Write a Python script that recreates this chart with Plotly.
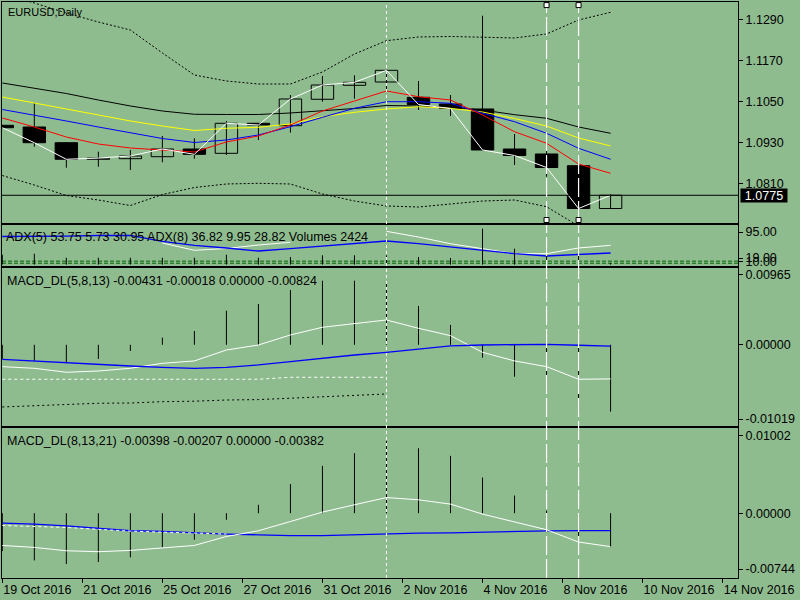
import plotly.graph_objects as go

BG = "#8FBC8F"
FONT = "Liberation Sans"

# ---------------- data ----------------
bar_index = list(range(20))
opens  = [1.09798, 1.09748, 1.09288, 1.08803, 1.08820, 1.08879, 1.09104, 1.08978, 1.09856, 1.09786,
          1.10559, 1.10968, 1.11065, 1.10617, 1.10421, 1.10275, 1.09104, 1.08958, 1.08615, 1.07362]
highs  = [1.09810, 1.10442, 1.09309, 1.09025, 1.09075, 1.09484, 1.09417, 1.09923, 1.09865, 1.10684,
          1.11241, 1.11261, 1.11416, 1.11094, 1.10684, 1.13005, 1.09543, 1.09271, 1.08615, 1.07787]
lows   = [1.09710, 1.09171, 1.08557, 1.08586, 1.08489, 1.08715, 1.08820, 1.08928, 1.09367, 1.09581,
          1.10488, 1.10576, 1.10831, 1.10245, 1.10070, 1.09075, 1.08636, 1.08293, 1.07026, 1.07357]
closes = [1.09727, 1.09288, 1.08803, 1.08840, 1.08899, 1.09104, 1.08949, 1.09856, 1.09806, 1.10567,
          1.10977, 1.11056, 1.11407, 1.10406, 1.10289, 1.09075, 1.08914, 1.08562, 1.07362, 1.07750]

ma_black  = [1.11036, 1.10889, 1.10728, 1.10538, 1.10363, 1.10216, 1.10120, 1.10114, 1.10114, 1.10158,
             1.10216, 1.10289, 1.10377, 1.10363, 1.10324, 1.10245, 1.10108, 1.10003, 1.09748, 1.09564]
ma_yellow = [1.10626, 1.10450, 1.10275, 1.10099, 1.09924, 1.09777, 1.09645, 1.09710, 1.09739, 1.09836,
             1.10049, 1.10178, 1.10275, 1.10342, 1.10295, 1.10187, 1.09997, 1.09777, 1.09426, 1.09192]
ma_blue   = [1.10260, 1.10099, 1.09924, 1.09748, 1.09572, 1.09411, 1.09294, 1.09367, 1.09514, 1.09757,
             1.10032, 1.10295, 1.10488, 1.10488, 1.10442, 1.10149, 1.09903, 1.09564, 1.09125, 1.08803]
ma_red    = [1.10011, 1.09748, 1.09455, 1.09250, 1.09133, 1.09075, 1.09016, 1.09309, 1.09485, 1.09806,
             1.10216, 1.10509, 1.10802, 1.10635, 1.10538, 1.10099, 1.09610, 1.09271, 1.08665, 1.08393]
band_upper = [1.13641, 1.13377, 1.13084, 1.12821, 1.12587, 1.11914, 1.11270, 1.11094, 1.11006, 1.11006,
              1.11358, 1.11884, 1.12274, 1.12382, 1.12397, 1.12382, 1.12353, 1.12470, 1.12880, 1.13105]
band_lower = [1.08328, 1.08050, 1.07743, 1.07611, 1.07450, 1.07772, 1.07977, 1.08080, 1.08100, 1.08080,
              1.07787, 1.07582, 1.07436, 1.07406, 1.07494, 1.07582, 1.07611, 1.07415, 1.06850, 1.06558]

volumes   = [15000, 16500, 10450, 10450, 10450, 10450, 10450, 15000, 10450, 11500,
             14100, 14100, 14100, 11500, 10000, 54400, 24100, 24100, 25150, 2424]
adx_blue  = [81.9, 81.9, 83.3, 84.8, 85.4, 67.9, 56.2, 48.4, 39.6, 46.3,
             53.3, 60.9, 68.8, 60.9, 51.3, 41.7, 31.8, 25.1, 30.0, 33.8]
adx_white = [None, None, None, None, None, 62.9, 41.7, 46.9, 57.1, 65.0,
             None, None, 97.0, 80.4, 60.9, 46.3, 31.8, 31.8, 48.4, 56.2]
adx_levels = [10, 4]

macd1_hist   = [-0.00180, -0.00204, -0.00233, -0.00179, -0.00078, 0.00090, 0.00174, 0.00430, 0.00515, 0.00692,
                0.00809, 0.00809, 0.00796, 0.00490, 0.00250, -0.00163, -0.00403, -0.00583, -0.00865, -0.00844]
macd1_main   = [-0.00276, -0.00297, -0.00347, -0.00331, -0.00297, -0.00234, -0.00204, -0.00066, -0.00003, 0.00124,
                0.00221, 0.00263, 0.00313, 0.00208, 0.00115, -0.00095, -0.00204, -0.00276, -0.00435, -0.00431]
macd1_signal = [-0.00183, -0.00204, -0.00233, -0.00255, -0.00268, -0.00284, -0.00297, -0.00284, -0.00255, -0.00213,
                -0.00170, -0.00129, -0.00095, -0.00053, -0.00015, -0.00003, 0.00006, 0.00006, -0.00006, -0.00018]
macd1_aux_white = [-0.00435, -0.00435, -0.00435, -0.00435, -0.00435, -0.00435, -0.00435, -0.00435, -0.00435,
                   -0.00410, -0.00410, -0.00410, -0.00410]
macd1_aux_black = [-0.00785, -0.00768, -0.00749, -0.00738, -0.00735, -0.00718, -0.00712, -0.00697, -0.00692,
                   -0.00674, -0.00655, -0.00641, -0.00621]

macd2_hist   = [-0.00450, -0.00562, -0.00605, -0.00581, -0.00526, -0.00407, -0.00316, -0.00078, 0.00100, 0.00346,
                0.00563, 0.00714, 0.00860, 0.00773, 0.00682, 0.00424, 0.00210, 0.00029, -0.00277, -0.00403]
macd2_main   = [-0.00384, -0.00407, -0.00447, -0.00458, -0.00443, -0.00415, -0.00384, -0.00277, -0.00209, -0.00099,
                0.00013, 0.00100, 0.00186, 0.00159, 0.00108, -0.00011, -0.00106, -0.00197, -0.00343, -0.00398]
macd2_signal = [-0.00118, -0.00129, -0.00150, -0.00182, -0.00209, -0.00217, -0.00236, -0.00248, -0.00257, -0.00268,
                -0.00268, -0.00257, -0.00245, -0.00236, -0.00233, -0.00224, -0.00213, -0.00210, -0.00208, -0.00207]
macd2_aux_white = [-0.00146, -0.00155, -0.00170, -0.00192, -0.00213, -0.00225, -0.00240, -0.00248]

date_tick_pos = [0, 2.5, 5, 7.5, 10, 12.5, 15, 17.5, 20, 22.5]
date_tick_labels = ["19 Oct 2016", "21 Oct 2016", "25 Oct 2016", "27 Oct 2016", "31 Oct 2016",
                    "2 Nov 2016", "4 Nov 2016", "8 Nov 2016", "10 Nov 2016", "14 Nov 2016"]
price_ticks = [1.0810, 1.0930, 1.1050, 1.1170, 1.1290]
adx_ticks = [95, 19, 10]
adx_tick_labels = ["95.00", "19.00", "10.00"]
macd1_ticks = [0.00890, 0.0, -0.00937]
macd1_tick_labels = ["0.00965", "0.00000", "-0.01019"]
macd2_ticks = [0.00923, 0.0, -0.00664]
macd2_tick_labels = ["0.01002", "0.00000", "-0.00744"]

title_main = "EURUSD,Daily"
title_adx = "ADX(5) 53.75 5.73 30.95 ADX(8) 36.82 9.95 28.82 Volumes 2424"
title_macd1 = "MACD_DL(5,8,13) -0.00431 -0.00018 0.00000 -0.00824"
title_macd2 = "MACD_DL(8,13,21) -0.00398 -0.00207 0.00000 -0.00382"

short_dash_bars = [12]
long_dash_bars = [17, 18]

# ---------------- layout geometry ----------------
X_RANGE = [-0.0094, 22.98]
DOM_MAIN = [0.6163, 1.0]
DOM_ADX = [0.5417, 0.6128]
DOM_M1 = [0.2639, 0.5382]
DOM_M2 = [0.0, 0.2599]

fig = go.Figure()


def stems(xs, ys, base=0.0):
    sx, sy = [], []
    for x, y in zip(xs, ys):
        if y is None:
            continue
        sx += [x, x, None]
        sy += [base, y, None]
    return sx, sy


# ---- main pane: candles ----
wx, wy = [], []
for i, h, l in zip(bar_index, highs, lows):
    wx += [i, i, None]
    wy += [l, h, None]
fig.add_trace(go.Scatter(x=wx, y=wy, mode="lines", line=dict(color="black", width=1),
                         xaxis="x", yaxis="y", hoverinfo="skip"))

up = [i for i in bar_index if closes[i] >= opens[i]]
dn = [i for i in bar_index if closes[i] < opens[i]]
fig.add_trace(go.Bar(x=up, base=[min(opens[i], closes[i]) for i in up],
                     y=[abs(closes[i] - opens[i]) for i in up], width=0.7,
                     marker=dict(color=BG, line=dict(color="black", width=1)),
                     xaxis="x", yaxis="y"))
fig.add_trace(go.Bar(x=dn, base=[min(opens[i], closes[i]) for i in dn],
                     y=[abs(closes[i] - opens[i]) for i in dn], width=0.7,
                     marker=dict(color="black", line=dict(color="black", width=1)),
                     xaxis="x", yaxis="y"))

for series in (band_upper, band_lower):
    fig.add_trace(go.Scatter(x=bar_index, y=series, mode="lines",
                             line=dict(color="black", width=1, dash="2px,2px"), xaxis="x", yaxis="y"))
for series, col in [(ma_black, "black"), (ma_yellow, "#FFFF00"), (ma_blue, "#0000FF"), (ma_red, "#FF0000")]:
    fig.add_trace(go.Scatter(x=bar_index, y=series, mode="lines",
                             line=dict(color=col, width=1), xaxis="x", yaxis="y"))
fig.add_trace(go.Scatter(x=bar_index, y=closes, mode="lines",
                         line=dict(color="white", width=1), xaxis="x", yaxis="y"))

# ---- ADX pane ----
for lv in adx_levels:
    fig.add_trace(go.Scatter(x=X_RANGE, y=[lv, lv], mode="lines",
                             line=dict(color="#006400", width=1, dash="4px,2px"), xaxis="x2", yaxis="y2"))
vx, vy = stems(bar_index, volumes)
fig.add_trace(go.Scatter(x=vx, y=vy, mode="lines", line=dict(color="black", width=1),
                         xaxis="x2", yaxis="y5"))
fig.add_trace(go.Scatter(x=bar_index, y=adx_white, mode="lines", connectgaps=False,
                         line=dict(color="white", width=1), xaxis="x2", yaxis="y2"))
fig.add_trace(go.Scatter(x=bar_index, y=adx_blue, mode="lines",
                         line=dict(color="#0000FF", width=1.3), xaxis="x2", yaxis="y2"))

# ---- MACD 1 ----
hx, hy = stems(bar_index, macd1_hist)
fig.add_trace(go.Scatter(x=hx, y=hy, mode="lines", line=dict(color="black", width=1), xaxis="x3", yaxis="y3"))
fig.add_trace(go.Scatter(x=bar_index[:len(macd1_aux_white)], y=macd1_aux_white, mode="lines",
                         line=dict(color="white", width=1, dash="3px,3px"), xaxis="x3", yaxis="y3"))
fig.add_trace(go.Scatter(x=bar_index[:len(macd1_aux_black)], y=macd1_aux_black, mode="lines",
                         line=dict(color="black", width=1, dash="2px,3px"), xaxis="x3", yaxis="y3"))
fig.add_trace(go.Scatter(x=bar_index, y=macd1_main, mode="lines",
                         line=dict(color="white", width=1), xaxis="x3", yaxis="y3"))
fig.add_trace(go.Scatter(x=bar_index, y=macd1_signal, mode="lines",
                         line=dict(color="#0000FF", width=1.3), xaxis="x3", yaxis="y3"))

# ---- MACD 2 ----
hx, hy = stems(bar_index, macd2_hist)
fig.add_trace(go.Scatter(x=hx, y=hy, mode="lines", line=dict(color="black", width=1), xaxis="x4", yaxis="y4"))
fig.add_trace(go.Scatter(x=bar_index, y=macd2_signal, mode="lines",
                         line=dict(color="#0000FF", width=1.3), xaxis="x4", yaxis="y4"))
fig.add_trace(go.Scatter(x=bar_index[:len(macd2_aux_white)], y=macd2_aux_white, mode="lines",
                         line=dict(color="white", width=1, dash="3px,3px"), xaxis="x4", yaxis="y4"))
fig.add_trace(go.Scatter(x=bar_index, y=macd2_main, mode="lines",
                         line=dict(color="white", width=1), xaxis="x4", yaxis="y4"))

# ---------------- axes ----------------
tickfont = dict(family=FONT, size=12.5, color="black")
xcommon = dict(range=X_RANGE, showgrid=False, zeroline=False, showline=True, mirror=True,
               linecolor="black", linewidth=1, fixedrange=True, automargin=False)
ycommon = dict(side="right", showgrid=False, zeroline=False, showline=True, mirror=True,
               linecolor="black", linewidth=1, ticks="outside", ticklen=4, tickcolor="black",
               tickfont=tickfont, automargin=False, fixedrange=True)

fig.update_layout(
    width=800, height=600,
    margin=dict(l=2, r=62, t=2, b=22, autoexpand=False),
    paper_bgcolor=BG, plot_bgcolor=BG,
    showlegend=False, barmode="overlay",
    xaxis=dict(xcommon, anchor="y", showticklabels=False, ticks=""),
    xaxis2=dict(xcommon, anchor="y2", matches="x", showticklabels=False, ticks=""),
    xaxis3=dict(xcommon, anchor="y3", matches="x", showticklabels=False, ticks=""),
    xaxis4=dict(xcommon, anchor="y4", matches="x", tickmode="array", tickvals=date_tick_pos,
                ticktext=date_tick_labels, ticks="outside", ticklen=4, tickcolor="black",
                tickfont=tickfont, ticklabelposition="outside right"),
    yaxis=dict(ycommon, domain=DOM_MAIN, anchor="x", range=[1.06938, 1.13406],
               tickmode="array", tickvals=price_ticks, ticktext=[f"{v:.4f}" for v in price_ticks]),
    yaxis2=dict(ycommon, domain=DOM_ADX, anchor="x2", range=[-4.1, 115.4],
                tickmode="array", tickvals=adx_ticks, ticktext=adx_tick_labels),
    yaxis5=dict(overlaying="y2", anchor="x2", range=[-2121, 60000], visible=False, automargin=False),
    yaxis3=dict(ycommon, domain=DOM_M1, anchor="x3", range=[-0.01025, 0.00969],
                tickmode="array", tickvals=macd1_ticks, ticktext=macd1_tick_labels),
    yaxis4=dict(ycommon, domain=DOM_M2, anchor="x4", range=[-0.00771, 0.01010],
                tickmode="array", tickvals=macd2_ticks, ticktext=macd2_tick_labels),
)

# ---------------- shapes ----------------
shapes = []
shapes.append(dict(type="line", xref="x domain", yref="y", x0=0, x1=1,
                   y0=closes[-1], y1=closes[-1], line=dict(color="black", width=1)))
for b in short_dash_bars:
    shapes.append(dict(type="line", xref="x", yref="paper", x0=b, x1=b, y0=0, y1=1,
                       line=dict(color="white", width=1, dash="3px,3px")))
for b in long_dash_bars:
    shapes.append(dict(type="line", xref="x", yref="y domain", x0=b, x1=b, y0=0.0136, y1=0.986,
                       line=dict(color="white", width=1.2, dash="19px,4px")))
    shapes.append(dict(type="line", xref="x", yref="paper", x0=b, x1=b, y0=0, y1=DOM_ADX[1],
                       line=dict(color="white", width=1.2, dash="19px,4px")))
    for ya in (0.0136, 0.986):
        shapes.append(dict(type="rect", xref="x", yref="y domain", xsizemode="pixel", ysizemode="pixel",
                           xanchor=b, yanchor=ya, x0=-2.5, x1=2.5, y0=-2.5, y1=2.5,
                           fillcolor="white", line=dict(color="black", width=1)))
fig.update_layout(shapes=shapes)

# ---------------- texts ----------------
def px_x(p):
    return (p - 2) / 736.0


def px_y(p):
    return (578 - p) / 576.0


ann = []
for text, x, y, size in [(title_main, 6, 12, 11), (title_adx, 4, 237.5, 12.5),
                         (title_macd1, 5, 280.5, 12.5), (title_macd2, 5, 440.5, 12.5)]:
    ann.append(dict(text=text, xref="paper", yref="paper", x=px_x(x), y=px_y(y), xanchor="left",
                    yanchor="middle", showarrow=False, font=dict(family=FONT, size=size, color="black")))
ann.append(dict(text=f"{closes[-1]:.4f}", xref="paper", yref="y", x=1, xshift=2, y=closes[-1],
                xanchor="left", yanchor="middle", showarrow=False, bgcolor="black", width=46, height=13,
                borderpad=0, font=dict(family=FONT, size=12.5, color="white")))
fig.update_layout(annotations=ann)

fig.write_html("out.html", config={"displayModeBar": False},
               post_script="document.body.style.margin='0px';")
